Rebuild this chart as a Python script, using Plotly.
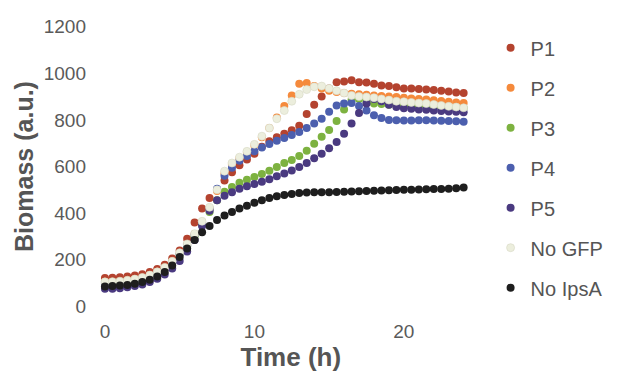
import numpy as np
import plotly.graph_objects as go

time_h = [i * 0.5 for i in range(49)]

p1 = [122,123,125,128,132,138,147,160,178,205,240,
      290,360,420,465,500,540,575,605,630,655,685,708,725,740,755,775,825,865,900,935,
      962,965,970,962,960,955,948,945,940,935,935,932,930,928,925,922,918,915]
p2 = [105,106,108,112,117,124,134,148,167,193,228,
      265,310,362,420,495,570,610,635,660,690,725,765,810,860,905,955,958,945,935,925,
      920,915,912,910,908,905,903,900,898,895,892,890,887,884,881,878,875,872]
p3 = [100,101,103,107,112,119,129,143,162,188,222,
      258,300,350,405,455,492,512,530,543,555,568,582,598,615,628,645,668,698,728,757,
      795,845,885,890,878,870,868,865,862,860,858,857,856,855,854,853,852,851]
p4 = [100,101,103,107,112,119,129,143,162,188,225,
      262,308,360,420,505,560,595,625,645,665,682,697,710,722,735,748,765,785,805,835,
      862,870,872,860,840,820,808,800,798,797,797,798,798,797,796,795,794,792]
p5 = [75,76,78,82,87,94,104,118,137,162,195,
      235,285,345,410,455,475,490,505,515,525,535,545,558,570,583,598,615,635,655,678,
      705,740,785,830,870,890,880,865,855,850,848,845,843,840,838,836,835,833]
no_gfp = [105,106,108,112,117,124,134,148,167,193,230,
          268,312,365,425,500,580,615,640,665,695,730,765,805,840,880,910,930,942,945,935,
          925,915,905,900,898,895,890,885,880,878,875,872,870,866,862,858,855,852]
no_ipsa = [85,87,89,92,97,104,114,128,147,175,212,
           248,285,318,345,370,390,405,420,432,445,455,465,472,478,482,486,488,489,490,490,
           491,492,493,494,495,496,497,498,499,500,500,501,502,503,504,505,507,510]

series_names = ["P1", "P2", "P3", "P4", "P5", "No GFP", "No IpsA"]
series_values = [p1, p2, p3, p4, p5, no_gfp, no_ipsa]
colors = ["#B4432F", "#F58A3C", "#7DB240", "#4C5FAE", "#4A3A80", "#ECEEDD", "#1E1E1E"]
x_ticks = [0, 10, 20]
y_ticks = [0, 200, 400, 600, 800, 1000, 1200]

fig = go.Figure()
for i, (name, vals, col) in enumerate(zip(series_names, series_values, colors)):
    line = dict(width=0.6, color="#D6D9C4") if name == "No GFP" else dict(width=0)
    fig.add_trace(go.Scatter(
        x=time_h, y=vals, mode="markers", name=name,
        legendgroup=f"g{i}",
        marker=dict(size=8, color=col, line=line),
    ))

font_family = "Liberation Sans, Arial, sans-serif"
fig.update_layout(
    width=621, height=376,
    margin=dict(l=90, r=135, t=15, b=58),
    paper_bgcolor="white", plot_bgcolor="white",
    font=dict(family=font_family, color="#5A5A5A"),
    showlegend=True,
    legend=dict(
        xref="container", yref="container",
        x=0.79, y=0.925, xanchor="left", yanchor="top",
        font=dict(size=20, color="#555555"),
        traceorder="grouped", tracegroupgap=11,
        itemwidth=30, bgcolor="rgba(0,0,0,0)",
        maxheight=1,
    ),
    xaxis=dict(
        range=[-1, 25], tickvals=x_ticks, ticktext=[str(v) for v in x_ticks],
        showgrid=False, zeroline=False, showline=False,
        tickfont=dict(size=19, color="#5A5A5A"),
        title=dict(text="<b>\u2002Time (h)</b>", font=dict(size=26, color="#555555"), standoff=0),
    ),
    yaxis=dict(
        range=[-50, 1250], tickvals=y_ticks,
        showgrid=False, zeroline=False, showline=False,
        tickfont=dict(size=19, color="#5A5A5A"),
        ticklabelstandoff=3,
        title=dict(text="<b>Biomass (a.u.)</b>", font=dict(size=25, color="#555555"), standoff=2),
    ),
)

fig.write_html("out.html")
